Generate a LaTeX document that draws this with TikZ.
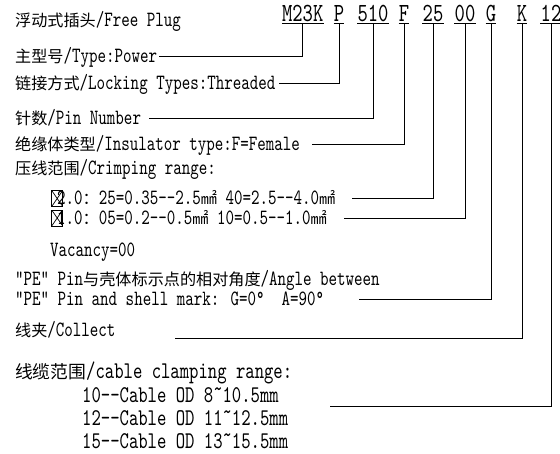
\documentclass[tikz,border=0pt]{standalone}
\usepackage{fontspec}
\newfontfamily\lat{lmmono10-regular}[Extension=.otf, FakeStretch=0.743]
\newfontfamily\codefont{lmmono10-regular}[Extension=.otf, FakeStretch=0.75]
\newfontfamily\cjk{Noto Sans CJK SC}[Scale=0.74]
\newcommand\twodash{-\kern0pt-}
\usetikzlibrary{positioning}
\tikzset{
    lbl/.style={anchor=west, inner sep=0pt, text height=12pt, text depth=0pt,
        font=\lat\fontsize{21.8}{24}\selectfont},
    biglbl/.style={lbl, text height=13pt, font=\lat\fontsize{24}{27}\selectfont},
    code/.style={anchor=base, inner xsep=0pt, inner ysep=2pt, text depth=0pt,
        font=\codefont\fontsize{26.2}{28}\selectfont},
    lead/.style={line width=0.9pt},
    chkbox/.style={draw, line width=0.8pt, minimum width=11pt, minimum height=16pt,
        inner sep=0pt,
        path picture={
            \draw[line width=0.7pt] (path picture bounding box.south west) -- (path picture bounding box.north east)
                (path picture bounding box.north west) -- (path picture bounding box.south east);
        }},
}

\begin{document}
\begin{tikzpicture}[x=1pt,y=-1pt]
\useasboundingbox (0,0) rectangle (560,453);

% order code
\foreach \nm/\tx/\xx in {m23k/M23K/302.7, p/P/339, s510/510/373, f/F/404, c25/25/433,
    c00/00/465, g/G/491, k/K/522, c12/12/551}{
    \node[code] (\nm) at (\xx,21) {\tx};
    \draw[lead] (\nm.south west) -- (\nm.south east);
}

% labels
\node[lbl] (title) at (15,20) {{\cjk 浮动式插头}/Free Plug};
\node[lbl] (type) at (15,56) {{\cjk 主型号}/Type:Power};
\node[lbl] (lock) at (15,83.5) {{\cjk 链接方式}/Locking Types:Threaded};
\node[lbl] (pin) at (15,118.5) {{\cjk 针数}/Pin Number};
\node[lbl] (insul) at (15,144) {{\cjk 绝缘体类型}/Insulator type:F=Female};
\node[lbl] (crimp) at (15,168) {{\cjk 压线范围}/Crimping range:};
\node[lbl] (row1) at (57,198.5) {2.0{\cjk ：}25=0.35\twodash2.5{\cjk ㎟} 40=2.5\twodash4.0{\cjk ㎟}};
\node[lbl] (row2) at (57,218) {1.0{\cjk ：}05=0.2\twodash0.5{\cjk ㎟} 10=0.5\twodash1.0{\cjk ㎟}};
\node[chkbox] (box1) at (57.2,198.5) {};
\node[chkbox] (box2) at (57.2,218) {};
\node[lbl] (vacancy) at (50,250) {Vacancy=00};
\node[lbl] (pe1) at (15,279.5) {”PE” Pin{\cjk 与壳体标示点的相对角度}/Angle between};
\node[lbl] (pe2) at (15,299) {”PE” Pin and shell mark: G=0°\ \ A=90°};
\node[lbl] (collect) at (15,330) {{\cjk 线夹}/Collect};
\node[biglbl] (cable) at (15,372) {{\cjk 线缆范围}/cable clamping range:};
\node[biglbl] (od10) at (82,396) {10\twodash Cable OD 8˜10.5mm};
\node[biglbl] (od12) at (82,419) {12\twodash Cable OD 11˜12.5mm};
\node[biglbl] (od15) at (82,442) {15\twodash Cable OD 13˜15.5mm};

\coordinate (collectend) at (175,338);
\coordinate (cableend) at (330,406);

% leaders
\draw[lead] (m23k.south) |- ([xshift=2pt]type.east);
\draw[lead] (p.south) |- ([xshift=3pt]lock.east);
\draw[lead] (s510.south) |- ([xshift=8pt]pin.east);
\draw[lead] (f.south) |- ([xshift=12pt]insul.east);
\draw[lead] (c25.south) |- ([xshift=17pt]row1.east);
\draw[lead] (c00.south) |- ([xshift=17pt]row2.east);
\draw[lead] (g.south) |- ([xshift=35pt]pe2.east);
\draw[lead] (k.south) |- (collectend);
\draw[lead] (c12.south) |- (cableend);
\end{tikzpicture}
\end{document}
